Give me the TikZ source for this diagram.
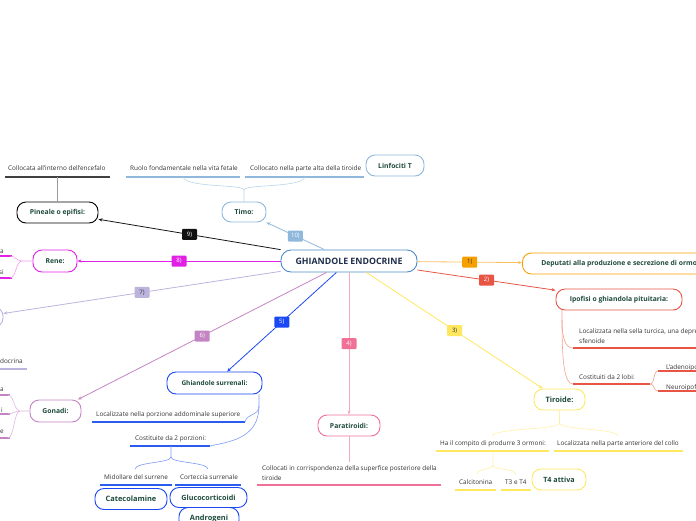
\documentclass[tikz,border=0pt]{standalone}
\usepackage{fontspec}
\setmainfont{Open Sans}
\usetikzlibrary{arrows.meta}
\definecolor{centtxt}{HTML}{1E2D4A}
\definecolor{nodetxt}{HTML}{1E4A3C}
\definecolor{txtc}{HTML}{333333}
\definecolor{cblue}{HTML}{4A8CC8}
\definecolor{timoc}{HTML}{8FB8DC}
\definecolor{timol}{HTML}{B8D4EC}
\definecolor{c9}{HTML}{111111}
\definecolor{pinl}{HTML}{9A9A9A}
\definecolor{c8}{HTML}{E020E6}
\definecolor{c8l}{HTML}{F0A0F0}
\definecolor{c7}{HTML}{BDB4DE}
\definecolor{c6}{HTML}{C484C4}
\definecolor{c6l}{HTML}{DDB8DD}
\definecolor{c5}{HTML}{1A48F5}
\definecolor{c5u}{HTML}{2A5CF0}
\definecolor{c5l}{HTML}{7C98F5}
\definecolor{c4}{HTML}{F07098}
\definecolor{c4l}{HTML}{F4A8C0}
\definecolor{c3}{HTML}{FFE860}
\definecolor{c3l}{HTML}{FFF0A8}
\definecolor{c2}{HTML}{E85545}
\definecolor{c2l}{HTML}{F4A090}
\definecolor{c1}{HTML}{F5A000}
\definecolor{c1l}{HTML}{F8C060}
\begin{document}
\begin{tikzpicture}[x=1pt,y=-1pt,
 box/.style={draw, rounded corners=9pt, line width=0.9pt, fill=white,
   font=\fontsize{6.8}{8}\selectfont\bfseries, text=nodetxt, inner sep=0pt, minimum height=21pt},
 lbl/.style={rounded corners=1pt, inner sep=0pt, minimum width=15pt, minimum height=11pt,
   font=\fontsize{6}{6}\selectfont, text=white},
 txt/.style={font=\fontsize{6.4}{10}\selectfont, text=txtc, inner sep=0pt, anchor=base west, align=left},
 rtxt/.style={txt, anchor=base east},
 arr/.style={-{Stealth[length=4pt,width=3.2pt]}, line width=0.8pt},
 ul/.style={line width=1.8pt},
 br/.style={line width=0.6pt},
]
\useasboundingbox (0,0) rectangle (696,520);
\clip (0,0) rectangle (696,520);

% ---------- nodes ----------
\node[box, draw=cblue, minimum width=136pt, minimum height=22pt, rounded corners=10pt,
  font=\fontsize{8.8}{10}\selectfont\bfseries, text=centtxt] (c) at (349,261) {GHIANDOLE ENDOCRINE};
\node[box, draw=timoc, minimum width=44pt, minimum height=20pt] (timo) at (244,212) {Timo:};
\node[box, draw=timoc, minimum width=58pt] (linf) at (395,165.5) {Linfociti T};
\node[box, draw=black, minimum width=81pt] (pin) at (57.5,212.5) {Pineale o epifisi:};
\node[box, draw=c8, minimum width=44pt, minimum height=22pt] (rene) at (55,261) {Rene:};
\node[box, draw=c7, minimum width=46pt, minimum height=20pt] (n7) at (-20,317) {};
\node[box, draw=c6, minimum width=51pt, minimum height=22pt] (gon) at (55.5,411) {Gonadi:};
\node[box, draw=c5, minimum width=95pt, minimum height=22pt, font=\fontsize{6.5}{8}\selectfont\bfseries] (sur) at (214.5,383) {Ghiandole surrenali:};
\node[box, draw=c5, minimum width=72pt, font=\fontsize{7.4}{8}\selectfont\bfseries] (cat) at (131,499) {Catecolamine};
\node[box, draw=c5, minimum width=60pt, minimum height=22pt, font=\fontsize{7.4}{8}\selectfont\bfseries] (andr) at (209,518.5) {Androgeni};
\node[box, draw=c5, minimum width=77pt, minimum height=20pt, font=\fontsize{7.2}{8}\selectfont\bfseries] (gluc) at (208.5,497.5) {Glucocorticoidi};
\node[box, draw=c4, minimum width=62pt] (para) at (349,425.5) {Paratiroidi:};
\node[box, draw=c3, minimum width=51pt, font=\fontsize{7.4}{8}\selectfont\bfseries] (tir) at (559.5,399.5) {Tiroide:};
\node[box, draw=c3, minimum width=54pt, font=\fontsize{7.2}{8}\selectfont\bfseries] (t4) at (559,479.5) {T4 attiva};
\node[box, draw=c1, anchor=west, inner xsep=13pt, minimum width=200pt] (dep) at (522,263.5) {Deputati alla produzione e secrezione di ormoni};
\node[box, draw=c2, minimum width=126pt] (ipo) at (619,299.5) {Ipofisi o ghiandola pituitaria:};

% ---------- main connectors ----------
\draw[arr, c1l] (c) -- node[lbl, fill=c1, text=txtc] {1)} (dep);
\draw[arr, c2] (c.east |- 0,270) -- node[lbl, fill=c2] {2)} (ipo);
\draw[arr, c3] (c) -- node[lbl, fill=c3, text=txtc] {3)} (tir);
\draw[arr, c4l] (c) -- node[lbl, fill=c4] {4)} (para);
\draw[arr, c5] (c) -- node[lbl, fill=c5] {5)} (sur);
\draw[arr, c6] (c) -- node[lbl, fill=c6] {6)} (gon);
\draw[arr, c7] (c) -- node[lbl, fill=c7, text=txtc] {7)} (n7);
\draw[arr, c8] (c) -- node[lbl, fill=c8] {8)} (rene);
\draw[arr, c9] (c) -- node[lbl, fill=c9] {9)} (pin);
\draw[arr, timoc] (c) -- node[lbl, fill=timoc] {10)} (timo);

% ---------- Pineale ----------
\node[txt] (tpin) at (8,170) {Collocata all'interno dell'encefalo};
\coordinate (upin) at (57.5,177);
\draw[ul, black!75] (5,177) -- (110,177);
\draw[br, pinl] (pin) -- (upin);

% ---------- Timo ----------
\node[txt] (tt1) at (130,170) {Ruolo fondamentale nella vita fetale};
\node[txt] (tt2) at (250,170) {Collocato nella parte alta della tiroide};
\draw[ul, timoc] (126,177) -- (240,177);
\draw[ul, timoc] (245,177) -- (364,177);
\coordinate (tj) at (244,190);
\draw[br, timol] (timo.north) -- (tj)
  .. controls (244,184) and (186,188) .. (183,177);
\draw[br, timol] (tj) .. controls (244,184) and (302,188) .. (305,177);

% ---------- Rene ----------
\node[rtxt] (r1) at (4,253) {a};
\node[rtxt] (r2) at (4,274) {si};
\draw[ul, c8] (-5,256) -- (12,256);
\draw[ul, c8] (-5,278) -- (12,278);
\coordinate (rj) at (22,261);
\draw[br, c8l] (rene.west) -- (rj) .. controls (16,261) and (16,256) .. (10,256);
\draw[br, c8l] (rj) .. controls (16,261) and (16,278) .. (10,278);

% ---------- 7 ----------
\node[txt] (d7) at (0,363) {docrina};
\draw[ul, c7] (-5,369) -- (27,369);

% ---------- Gonadi ----------
\node[rtxt] (g1) at (4,391) {a};
\node[rtxt] (g2) at (3,412) {i};
\node[rtxt] (g3) at (4,433) {e};
\draw[ul, c6] (-5,395) -- (10,395);
\draw[ul, c6] (-5,414) -- (10,414);
\draw[ul, c6] (-5,438) -- (10,438);
\coordinate (gj) at (20,411);
\draw[br, c6l] (gon.west) -- (gj) .. controls (14,411) and (14,395) .. (8,395);
\draw[br, c6l] (gj) .. controls (14,411) and (14,414) .. (8,414);
\draw[br, c6l] (gj) .. controls (14,411) and (14,438) .. (8,438);

% ---------- Surrenali ----------
\node[txt] (s1) at (96,416) {Localizzate nella porzione addominale superiore};
\node[txt] (s2) at (135,440) {Costituite da 2 porzioni:};
\node[txt] (s3) at (104,479) {Midollare del surrene};
\node[txt] (s4) at (180,479) {Corteccia surrenale};
\draw[ul, c5u] (92,422) -- (245,422);
\draw[ul, c5u] (130,446) -- (210,446);
\draw[ul, c5u] (100,485) -- (172,485);
\draw[ul, c5u] (175,485) -- (241,485);
\coordinate (sj) at (259,406);
\draw[br, c5l] (sur.south east -| 259,0) -- (sj)
  .. controls (259,416) and (247,413) .. (245,422);
\draw[br, c5l] (sj) .. controls (259,440) and (226,442) .. (210,446);
\coordinate (sj2) at (171,457);
\draw[br, c5l] (171,446) -- (sj2) .. controls (171,463) and (136,462) .. (135,469);
\draw[br, c5l] (sj2) .. controls (171,463) and (207,462) .. (208,469);

% ---------- Paratiroidi ----------
\node[txt] (p1) at (262,480) {Collocati in corrispondenza della superfice posteriore della\\tiroide};
\draw[ul, c4] (257,485) -- (441,485);
\draw[br, c4l] (para) -- (349,462);

% ---------- Tiroide ----------
\node[txt] (ti1) at (440,445) {Ha il compito di produrre 3 ormoni:};
\node[txt] (ti2) at (557,445) {Localizzata nella parte anteriore del collo};
\node[txt] (ti3) at (459,484) {Calcitonina};
\node[txt] (ti4) at (505,484) {T3 e T4};
\draw[ul, c3] (436,451) -- (549,451);
\draw[ul, c3] (554,451) -- (683,451);
\draw[ul, c3] (455,490) -- (496,490);
\draw[ul, c3] (501,490) -- (531,490);
\coordinate (tj1) at (559.5,423);
\draw[br, c3l] (tir) -- (tj1) .. controls (559.5,430) and (494,428) .. (492,436);
\draw[br, c3l] (tj1) .. controls (559.5,430) and (616,428) .. (618,436);
\coordinate (tj2) at (493,465);
\draw[br, c3l] (493,451) -- (tj2) .. controls (493,470) and (478,468) .. (477,474);
\draw[br, c3l] (tj2) .. controls (493,470) and (515,468) .. (516,475);

% ---------- Ipofisi ----------
\node[txt] (i1) at (579,343) {Localizzata nella sella turcica, una depressione dello\\sfenoide};
\node[txt] (i2) at (579,379) {Costituiti da 2 lobi:};
\node[txt] (i3) at (666,369) {L'adenoipofisi};
\node[txt] (i4) at (666,389) {Neuroipofisi};
\draw[ul, c2] (573,348) -- (700,348);
\draw[ul, c2] (573,384) -- (650,384);
\draw[ul, c2] (658,371) -- (700,371);
\draw[ul, c2] (658,391) -- (700,391);
\coordinate (ij) at (562,320);
\draw[br, c2l] (562,310) -- (ij) .. controls (562,340) and (566,348) .. (573,348);
\draw[br, c2l] (ij) .. controls (562,360) and (564,384) .. (573,384);
\coordinate (ij2) at (650,384);
\draw[br, c2l] (ij2) .. controls (655,384) and (653,371) .. (658,371);
\draw[br, c2l] (ij2) .. controls (655,384) and (653,391) .. (658,391);
\end{tikzpicture}
\end{document}
